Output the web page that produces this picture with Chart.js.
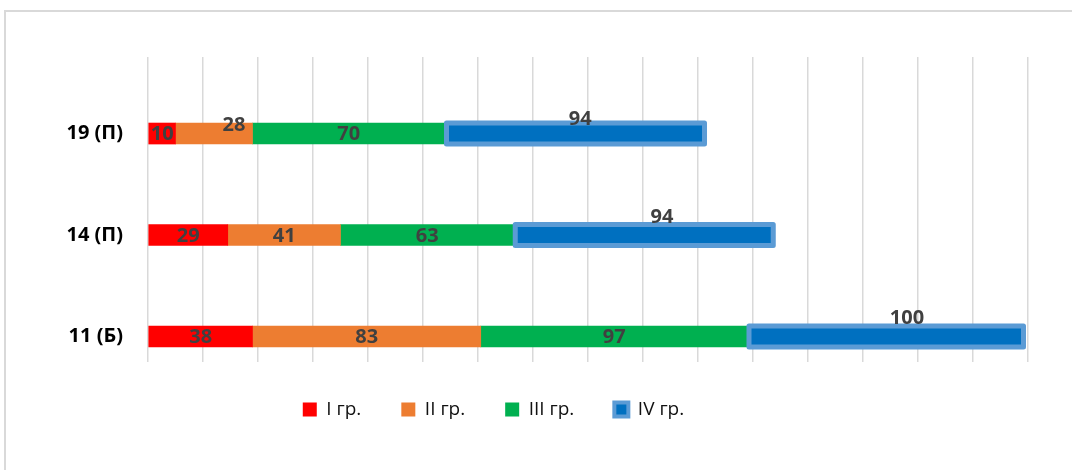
<!DOCTYPE html>
<html>
<head>
<meta charset="utf-8">
<script src="https://cdn.jsdelivr.net/npm/chart.js@4.4.1/dist/chart.umd.min.js"></script>
<style>
  html, body { margin: 0; padding: 0; background: #ffffff; overflow: hidden; }
  #wrap { position: relative; width: 1072px; height: 470px; }
  #frame { position: absolute; left: 4px; top: 10px; width: 1200px; height: 600px;
           border-left: 2px solid #d9d9d9; border-top: 2px solid #d9d9d9; box-sizing: border-box; }
  #c { position: absolute; left: 0; top: 0; }
</style>
</head>
<body>
<div id="wrap">
  <div id="frame"></div>
  <canvas id="c" width="1072" height="470"></canvas>
</div>
<script>
// ---- data ----
const categories = ['19 (П)', '14 (П)', '11 (Б)'];
const seriesNames = ['I гр.', 'II гр.', 'III гр.', 'IV гр.'];
const group1 = [10, 29, 38];
const group2 = [28, 41, 83];
const group3 = [70, 63, 97];
const group4 = [94, 94, 100];
const axisMax = 320;
const axisStep = 20;

// ---- styles ----
const fills = ['#FF0000', '#ED7D31', '#00B050', '#0070C0'];
const ivBorder = '#5B9BD5';
const FONT = '"Open Sans", "Noto Sans", sans-serif';
// label offsets [dx, dy] per dataset per category (manually placed labels in the original)
const labelOffsets = [
  [[0, 1], [0, 1], [0, 1]],
  [[20, -8], [0, 1], [0, 1]],
  [[0, 1], [0, 1], [0, 1]],
  [[6, -14], [19, -18], [22, -18]]
];
const legendShift = { dx: -20.5, dy: -3 };

const ivBorderPlugin = {
  id: 'ivBorder',
  afterDatasetsDraw(chart) {
    const ctx = chart.ctx;
    const meta = chart.getDatasetMeta(3);
    ctx.save();
    ctx.strokeStyle = ivBorder;
    ctx.lineWidth = 5;
    ctx.lineJoin = 'round';
    meta.data.forEach(el => {
      const p = el.getProps(['x', 'y', 'base', 'height'], true);
      const left = Math.min(p.base, p.x), right = Math.max(p.base, p.x);
      ctx.strokeRect(left + 1.5, p.y - p.height / 2, right - left - 0.5, p.height);
    });
    ctx.restore();
  }
};

const labelPlugin = {
  id: 'barLabels',
  afterDatasetsDraw(chart) {
    const ctx = chart.ctx;
    ctx.save();
    ctx.font = 'bold 20px ' + FONT;
    ctx.fillStyle = '#404040';
    ctx.textAlign = 'center';
    ctx.textBaseline = 'middle';
    chart.data.datasets.forEach((ds, di) => {
      const meta = chart.getDatasetMeta(di);
      meta.data.forEach((el, i) => {
        const p = el.getProps(['x', 'y', 'base'], true);
        const cx = (p.x + p.base) / 2;
        const off = labelOffsets[di][i];
        ctx.fillText(String(ds.data[i].x), cx + off[0], p.y + off[1]);
      });
    });
    ctx.restore();
  }
};

const legendShiftPlugin = {
  id: 'legendShift',
  afterLayout(chart) {
    const lg = chart.legend;
    if (!lg) return;
    lg.left += legendShift.dx; lg.right += legendShift.dx;
    lg.top += legendShift.dy; lg.bottom += legendShift.dy;
  }
};

const seriesData = [group1, group2, group3, group4];
const datasets = seriesNames.map((name, i) => ({
  label: name,
  data: seriesData[i].map((v, ci) => ({ x: v, y: ci })),
  backgroundColor: fills[i],
  borderWidth: 0,
  barThickness: 21
}));

new Chart(document.getElementById('c'), {
  type: 'bar',
  data: { datasets },
  options: {
    indexAxis: 'y',
    responsive: false,
    animation: false,
    layout: { padding: { left: 0, right: 44, top: 57, bottom: 38 } },
    scales: {
      x: {
        type: 'linear',
        stacked: true,
        min: 0,
        max: axisMax,
        ticks: { display: false, stepSize: axisStep },
        grid: { color: '#d9d9d9', lineWidth: 1.5, drawTicks: false },
        border: { display: false },
        afterFit(scale) { scale.height = 1; }
      },
      y: {
        type: 'linear',
        stacked: true,
        reverse: true,
        offset: false,
        min: -0.754,
        max: 2.251,
        afterBuildTicks(scale) { scale.ticks = categories.map((_, i) => ({ value: i })); },
        grid: { display: false, drawTicks: false },
        border: { display: false },
        ticks: {
          color: '#000000',
          font: { family: FONT, size: 20, weight: 'bold' },
          padding: 25,
          callback: (v) => categories[v]
        },
        afterFit(scale) { scale.width = 148; }
      }
    },
    plugins: {
      legend: {
        position: 'bottom',
        labels: {
          boxWidth: 14,
          boxHeight: 14,
          padding: 40,
          color: '#111111',
          font: { family: FONT, size: 19 },
          generateLabels(chart) {
            return chart.data.datasets.map((ds, i) => ({
              text: ds.label,
              fillStyle: fills[i],
              strokeStyle: i === 3 ? ivBorder : fills[i],
              lineWidth: i === 3 ? 4 : 0,
              hidden: false,
              datasetIndex: i,
              fontColor: '#111111'
            }));
          }
        }
      },
      tooltip: { enabled: false }
    }
  },
  plugins: [ivBorderPlugin, labelPlugin, legendShiftPlugin]
});
</script>
</body>
</html>
